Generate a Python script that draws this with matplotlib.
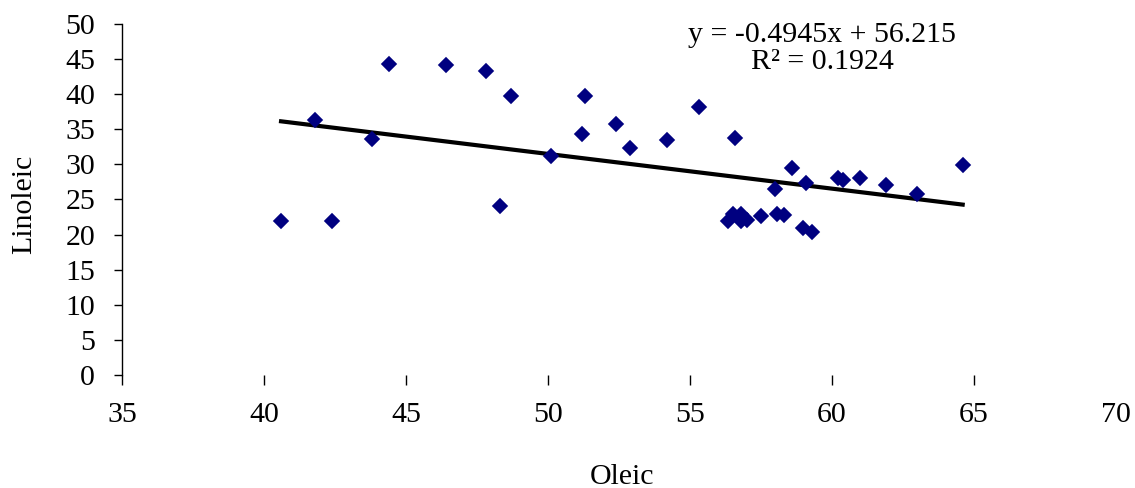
import numpy as np
import matplotlib
matplotlib.use("Agg")
import matplotlib.pyplot as plt

# Данные
oleic = [40.6, 41.8, 42.4, 43.8, 44.4, 46.4, 47.8, 48.7, 48.3, 50.1,
         51.3, 51.2, 52.4, 52.9, 54.2, 55.3, 56.6,
         56.35, 56.5, 56.8, 56.8, 57.0, 57.5, 58.05, 58.3, 58.97, 59.3,
         58.0, 58.6, 59.1, 60.2, 60.4, 61.0, 61.9, 63.0, 64.6]
linoleic = [22.0, 36.3, 22.0, 33.6, 44.3, 44.1, 43.3, 39.7, 24.1, 31.2,
            39.7, 34.4, 35.8, 32.4, 33.5, 38.2, 33.8,
            21.9, 22.9, 22.9, 21.9, 22.1, 22.6, 22.9, 22.8, 20.9, 20.3,
            26.5, 29.5, 27.4, 28.1, 27.8, 28.0, 27.1, 25.8, 29.9]

# Линия тренда (коэффициенты с графика)
slope = -0.4945
intercept = 56.215
r2 = 0.1924

x_ticks = [35, 40, 45, 50, 55, 60, 65, 70]
y_ticks = [0, 5, 10, 15, 20, 25, 30, 35, 40, 45, 50]

plt.rcParams['font.family'] = ['Liberation Serif', 'DejaVu Serif']

fig = plt.figure(figsize=(11.35, 4.88), dpi=100)
ax = fig.add_axes([0.1075, 0.2316, 0.8758, 0.7192])

ax.plot(oleic, linoleic, linestyle='none', marker='D', ms=7.2,
        color='#000080', mec='#000080', mew=1.2, zorder=3)

xl = np.array([min(oleic), max(oleic)])
ax.plot(xl, slope * xl + intercept, color='black', lw=3, zorder=2)

ax.text(59.65, 48.5, 'y = %.4fx + %.3f' % (slope, intercept),
        fontsize=21.5, ha='center', va='center')
ax.text(59.65, 44.6, 'R² = %.4f' % r2, fontsize=21.5, ha='center', va='center')

ax.set_xlim(35, 70)
ax.set_ylim(0, 50)
ax.set_xticks(x_ticks)
ax.set_yticks(y_ticks)
ax.tick_params(axis='both', labelsize=21.5, width=1, direction='out')
ax.tick_params(axis='y', length=5.8, pad=13.5)
ax.tick_params(axis='x', length=7.2, pad=12)
ax.xaxis.get_major_ticks()[-1].tick1line.set_visible(False)

for s in ['top', 'right', 'bottom']:
    ax.spines[s].set_visible(False)
ax.spines['left'].set_linewidth(1)

ax.set_xlabel('Oleic', fontsize=21.5, va='center')
ax.xaxis.set_label_coords(0.503, -0.29)
ax.set_ylabel('Linoleic', fontsize=21.5, va='center')
ax.yaxis.set_label_coords(-0.0986, 0.487)

fig.savefig('out.png', dpi=100)
